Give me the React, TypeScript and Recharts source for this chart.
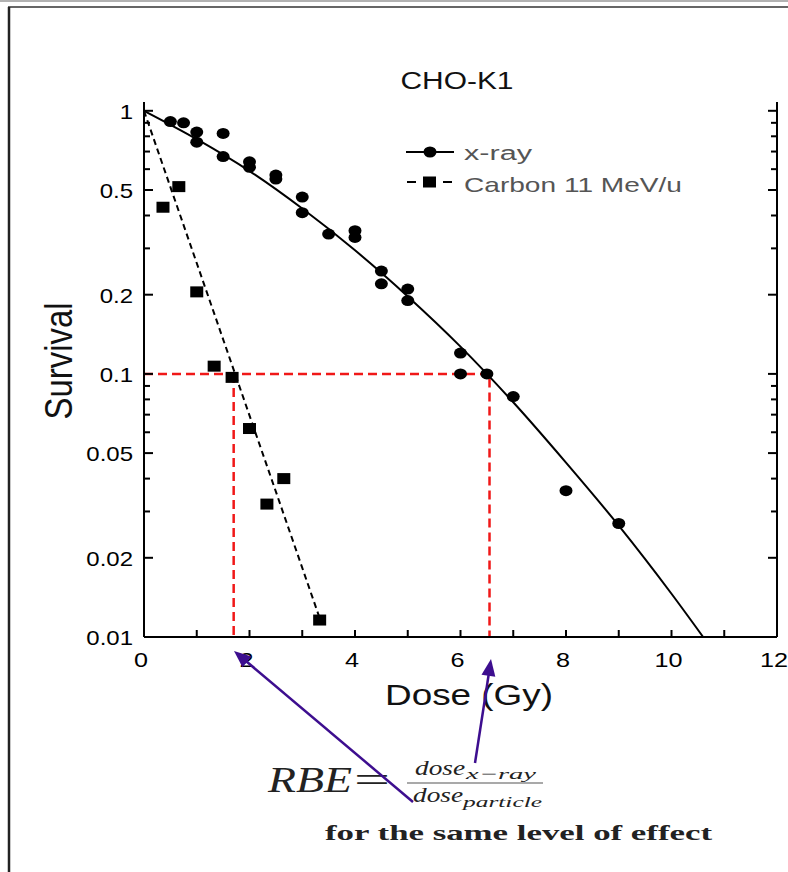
import React from 'react'
import { ComposedChart, Line, Scatter, XAxis, YAxis } from 'recharts'

// survival curves, values
const xrayDose = [0.5, 0.75, 1, 1, 1.5, 1.5, 2, 2, 2.5, 2.5, 3, 3, 3.5, 4, 4, 4.5, 4.5, 5, 5, 6, 6, 6.5, 7, 8, 9]
const xraySurv = [0.91, 0.9, 0.83, 0.76, 0.82, 0.67, 0.64, 0.61, 0.57, 0.55, 0.47, 0.41, 0.34, 0.35, 0.33, 0.246, 0.22, 0.21, 0.19, 0.12, 0.1, 0.1, 0.082, 0.036, 0.027]

const carbonDose = [0.36, 0.66, 1.0, 1.33, 1.67, 2.0, 2.33, 2.65, 3.33]
const carbonSurv = [0.43, 0.515, 0.205, 0.107, 0.097, 0.062, 0.032, 0.04, 0.0116]

const xrayFitDose = [0, 1, 2, 3, 4, 5, 6, 7, 8, 9, 10, 10.6]
const xrayFitSurv = [1, 0.78, 0.59, 0.425, 0.295, 0.197, 0.127, 0.078, 0.046, 0.0265, 0.0146, 0.01]

const carbonFitDose = [0, 3.33]
const carbonFitSurv = [1, 0.0118]

// iso-effect guide lines (10% survival)
const guideHDose = [0, 6.55, 6.55]
const guideHSurv = [0.1, 0.1, 0.01]
const guideVDose = [1.7, 1.7]
const guideVSurv = [0.1, 0.01]

const xTicks = [0, 1, 2, 3, 4, 5, 6, 7, 8, 9, 10, 11, 12]
const xLabelTicks = [0, 2, 4, 6, 8, 10, 12]
const yMajorTicks = [0.01, 0.02, 0.05, 0.1, 0.2, 0.5, 1]
const yMinorTicks = [0.03, 0.04, 0.06, 0.07, 0.08, 0.09, 0.3, 0.4, 0.6, 0.7, 0.8, 0.9]
const yTicks = [...yMajorTicks, ...yMinorTicks].sort((a, b) => a - b)

const pts = (xs: number[], ys: number[]) => xs.map((x, i) => ({ x, y: ys[i] }))

const SANS = 'Liberation Sans, Arial, sans-serif'
const SERIF = 'Liberation Serif, Times New Roman, serif'

const BottomTick = (p: any) => {
  const { x, y, payload } = p
  const v = payload.value
  return (
    <g>
      <line x1={x} y1={y} x2={x} y2={y - 7} stroke="#000" strokeWidth={2} />
      {xLabelTicks.includes(v) && (
        <text transform={`translate(${x - 3},${y + 30}) scale(1.2,1)`} textAnchor="middle" fontFamily={SANS} fontSize={21} fill="#000">
          {v}
        </text>
      )}
    </g>
  )
}

const TopTick = (p: any) => (
  <line x1={p.x} y1={p.y} x2={p.x} y2={p.y + 7} stroke="#000" strokeWidth={2} />
)

const LeftTick = (p: any) => {
  const { x, y, payload } = p
  const major = yMajorTicks.includes(payload.value)
  return (
    <g>
      <line x1={x} y1={y} x2={x + (major ? 9 : 6)} y2={y} stroke="#000" strokeWidth={2} />
      {major && (
        <text transform={`translate(${x - 11},${y + 8}) scale(1.2,1)`} textAnchor="end" fontFamily={SANS} fontSize={20} fill="#000">
          {String(payload.value)}
        </text>
      )}
    </g>
  )
}

const RightTick = (p: any) => {
  const major = yMajorTicks.includes(p.payload.value)
  return <line x1={p.x} y1={p.y} x2={p.x - (major ? 9 : 6)} y2={p.y} stroke="#000" strokeWidth={2} />
}

const Dot = (p: any) => <ellipse cx={p.cx} cy={p.cy} rx={6.5} ry={5.5} fill="#000" />
const Square = (p: any) => <rect x={p.cx - 6.5} y={p.cy - 5.5} width={13} height={11} fill="#000" />

const arrowHead = (tx: number, ty: number, fx: number, fy: number) => {
  const dx = tx - fx
  const dy = ty - fy
  const len = Math.hypot(dx, dy)
  const ux = dx / len
  const uy = dy / len
  const bx = tx - ux * 17
  const by = ty - uy * 17
  return `${tx},${ty} ${bx - uy * 7},${by + ux * 7} ${bx + uy * 7},${by - ux * 7}`
}

export default function App() {
  const axisLine = { stroke: '#000', strokeWidth: 2 }
  return (
    <div style={{ position: 'absolute', left: 0, top: 0, width: 788, height: 872, background: '#fff' }}>
      <ComposedChart width={788} height={872} margin={{ top: 102, right: 0, bottom: 205, left: 0 }}>
        <XAxis xAxisId="b" type="number" dataKey="x" domain={[0, 12]} ticks={xTicks} interval={0} allowDataOverflow
          height={30} tickSize={0} tickMargin={0} tickLine={false} axisLine={axisLine} tick={<BottomTick />} />
        <XAxis xAxisId="t" orientation="top" type="number" dataKey="x" domain={[0, 12]} ticks={xTicks} interval={0} allowDataOverflow
          height={0} tickSize={0} tickMargin={0} tickLine={false} axisLine={axisLine} tick={<TopTick />} />
        <YAxis yAxisId="l" type="number" dataKey="y" scale="log" domain={[0.01, 1.08]} ticks={yTicks} interval={0} allowDataOverflow
          width={144} tickSize={0} tickMargin={0} tickLine={false} axisLine={axisLine} tick={<LeftTick />} />
        <YAxis yAxisId="r" orientation="right" type="number" dataKey="y" scale="log" domain={[0.01, 1.08]} ticks={yTicks} interval={0} allowDataOverflow
          width={11} tickSize={0} tickMargin={0} tickLine={false} axisLine={axisLine} tick={<RightTick />} />

        <Line xAxisId="b" yAxisId="l" data={pts(guideHDose, guideHSurv)} dataKey="y" type="linear" stroke="#f01818"
          strokeWidth={2.5} strokeDasharray="9 5" dot={false} isAnimationActive={false} />
        <Line xAxisId="b" yAxisId="l" data={pts(guideVDose, guideVSurv)} dataKey="y" type="linear" stroke="#f01818"
          strokeWidth={2.5} strokeDasharray="9 5" dot={false} isAnimationActive={false} />

        <Line xAxisId="b" yAxisId="l" data={pts(xrayFitDose, xrayFitSurv)} dataKey="y" type="monotone" stroke="#000"
          strokeWidth={2} dot={false} isAnimationActive={false} />
        <Line xAxisId="b" yAxisId="l" data={pts(carbonFitDose, carbonFitSurv)} dataKey="y" type="linear" stroke="#000"
          strokeWidth={2} strokeDasharray="6 4" dot={false} isAnimationActive={false} />

        <Scatter xAxisId="b" yAxisId="l" data={pts(xrayDose, xraySurv)} dataKey="y" shape={<Dot />} isAnimationActive={false} />
        <Scatter xAxisId="b" yAxisId="l" data={pts(carbonDose, carbonSurv)} dataKey="y" shape={<Square />} isAnimationActive={false} />
      </ComposedChart>

      <svg width={788} height={872} style={{ position: 'absolute', left: 0, top: 0, pointerEvents: 'none' }}>
        {/* page frame */}
        <line x1={0} y1={1} x2={788} y2={1} stroke="#999" strokeWidth={1.5} />
        <line x1={8} y1={7} x2={788} y2={7} stroke="#333" strokeWidth={1.5} />
        <line x1={9} y1={7} x2={9} y2={872} stroke="#222" strokeWidth={2.5} />

        <text x={457} y={89} textAnchor="middle" fontFamily={SANS} fontSize={24.5} textLength={113} lengthAdjust="spacingAndGlyphs" fill="#111">
          CHO-K1
        </text>
        <text transform="translate(57.5,361) scale(1.2,1) rotate(-90)" y={12} textAnchor="middle" fontFamily={SANS} fontSize={33}
          textLength={117} lengthAdjust="spacingAndGlyphs" fill="#111">
          Survival
        </text>
        <text x={469} y={705} textAnchor="middle" fontFamily={SANS} fontSize={30} textLength={168} lengthAdjust="spacingAndGlyphs" fill="#111">
          Dose (Gy)
        </text>

        {/* legend */}
        <line x1={406} y1={152} x2={454} y2={152} stroke="#000" strokeWidth={2} />
        <ellipse cx={430} cy={152} rx={6.5} ry={5.5} fill="#000" />
        <text x={464} y={160} fontFamily={SANS} fontSize={20} textLength={68} lengthAdjust="spacingAndGlyphs" fill="#555">x-ray</text>
        <line x1={407} y1={182} x2={416} y2={182} stroke="#000" strokeWidth={2} />
        <rect x={423} y={176.5} width={13} height={11} fill="#000" />
        <line x1={443} y1={182} x2={452} y2={182} stroke="#000" strokeWidth={2} />
        <text x={464} y={192} fontFamily={SANS} fontSize={21} textLength={218} lengthAdjust="spacingAndGlyphs" fill="#555">Carbon 11 MeV/u</text>

        {/* RBE definition */}
        <text x={268} y={792} fontFamily={SERIF} fontStyle="italic" fontSize={36} textLength={84} lengthAdjust="spacingAndGlyphs" fill="#222">RBE</text>
        <text x={354} y={792} fontFamily={SERIF} fontSize={36} textLength={36} lengthAdjust="spacingAndGlyphs" fill="#222">=</text>
        <text x={415} y={775} fontFamily={SERIF} fontStyle="italic" fontSize={22} textLength={50} lengthAdjust="spacingAndGlyphs" fill="#222">dose</text>
        <text x={466} y={779} fontFamily={SERIF} fontStyle="italic" fontSize={15} textLength={70} lengthAdjust="spacingAndGlyphs" fill="#222">x−ray</text>
        <line x1={407} y1={783} x2={543} y2={783} stroke="#555" strokeWidth={1.2} />
        <text x={413} y={802} fontFamily={SERIF} fontStyle="italic" fontSize={22} textLength={50} lengthAdjust="spacingAndGlyphs" fill="#222">dose</text>
        <text x={463} y={807} fontFamily={SERIF} fontStyle="italic" fontSize={15} textLength={79} lengthAdjust="spacingAndGlyphs" fill="#222">particle</text>
        <text x={325} y={840} fontFamily={SERIF} fontWeight="bold" fontSize={21} textLength={387} lengthAdjust="spacingAndGlyphs" fill="#222">
          for the same level of effect
        </text>

        {/* arrows */}
        <line x1={413} y1={802} x2={240} y2={656} stroke="#3d0e8f" strokeWidth={2.5} />
        <polygon points={arrowHead(234, 651, 413, 802)} fill="#3d0e8f" />
        <line x1={475} y1={763} x2={490} y2={666} stroke="#3d0e8f" strokeWidth={2.5} />
        <polygon points={arrowHead(491, 659, 475, 763)} fill="#3d0e8f" />
      </svg>
    </div>
  )
}
